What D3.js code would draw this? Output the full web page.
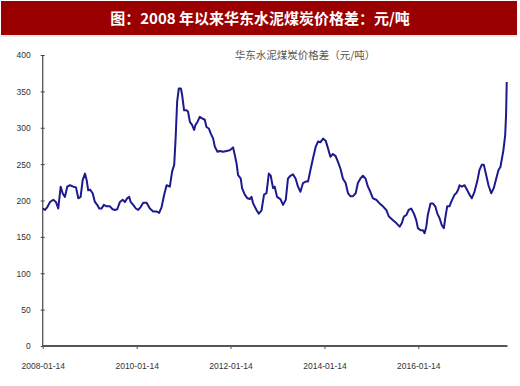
<!DOCTYPE html>
<html>
<head>
<meta charset="UTF-8">
<title>华东水泥煤炭价格差</title>
<script src="https://cdn.jsdelivr.net/npm/d3@7"></script>
<style>
  body { margin: 0; background: #fff; }
  text.tick-label { font-family: "Liberation Sans", Arial, sans-serif; font-size: 8.5px; fill: #333; }
</style>
</head>
<body>
<div id="chart"></div>
<script>
// weekly price gap (元/吨)
const dates = [
  "2008-01-14","2008-02-01","2008-02-19","2008-03-11","2008-04-05","2008-04-26","2008-05-14","2008-06-02",
  "2008-06-17","2008-07-05","2008-07-23","2008-08-13","2008-09-08","2008-09-29","2008-10-17","2008-11-04",
  "2008-11-20","2008-12-08","2008-12-21","2009-01-02","2009-01-16","2009-02-06","2009-02-23","2009-03-13",
  "2009-03-29","2009-04-16","2009-05-04","2009-05-25","2009-06-20","2009-07-11","2009-07-29","2009-08-16",
  "2009-09-06","2009-09-27","2009-10-15","2009-11-01","2009-11-17","2009-11-28","2009-12-18","2010-01-08",
  "2010-01-26","2010-02-14","2010-03-06","2010-04-01","2010-04-27","2010-05-22","2010-06-18","2010-07-08",
  "2010-07-27","2010-08-16","2010-09-04","2010-09-29","2010-10-17","2010-11-02","2010-11-13","2010-11-25",
  "2010-12-08","2010-12-24","2011-01-03","2011-01-18","2011-02-06","2011-02-18","2011-03-04","2011-03-21",
  "2011-04-06","2011-04-17","2011-05-02","2011-05-20","2011-06-07","2011-06-28","2011-07-11","2011-07-29",
  "2011-08-14","2011-09-01","2011-09-14","2011-10-05","2011-10-23","2011-11-17","2011-12-14","2012-01-08",
  "2012-02-03","2012-02-16","2012-03-01","2012-03-13","2012-04-03","2012-04-13","2012-05-04","2012-05-25",
  "2012-06-12","2012-06-25","2012-07-08","2012-08-03","2012-08-21","2012-09-11","2012-10-01","2012-10-20",
  "2012-11-07","2012-11-22","2012-12-10","2012-12-23","2013-01-10","2013-02-05","2013-02-26","2013-03-19",
  "2013-04-05","2013-04-24","2013-05-14","2013-06-04","2013-06-22","2013-07-11","2013-07-31","2013-08-21",
  "2013-09-08","2013-09-27","2013-10-17","2013-11-07","2013-11-25","2013-12-13","2014-01-03","2014-01-24",
  "2014-02-10","2014-03-01","2014-03-21","2014-04-11","2014-04-29","2014-05-18","2014-06-07","2014-06-28",
  "2014-07-16","2014-08-03","2014-08-24","2014-09-14","2014-10-01","2014-10-20","2014-11-09","2014-11-30",
  "2014-12-18","2015-01-06","2015-01-26","2015-02-21","2015-03-19","2015-04-14","2015-05-10","2015-05-30",
  "2015-07-01","2015-07-27","2015-08-22","2015-09-08","2015-09-24","2015-10-13","2015-10-31","2015-11-20",
  "2015-12-11","2015-12-29","2016-01-11","2016-02-01","2016-02-19","2016-03-03","2016-03-16","2016-03-28",
  "2016-04-18","2016-05-06","2016-05-25","2016-06-10","2016-06-27","2016-07-15","2016-07-31","2016-08-11",
  "2016-08-26","2016-09-13","2016-09-26","2016-10-09","2016-10-22","2016-11-04","2016-11-17","2016-11-30",
  "2016-12-18","2017-01-08","2017-01-29","2017-02-16","2017-03-05","2017-03-26","2017-04-16","2017-05-04",
  "2017-05-22","2017-06-07","2017-06-25","2017-07-13","2017-08-03","2017-08-23","2017-09-11","2017-09-29",
  "2017-10-14","2017-10-24","2017-11-06","2017-11-20","2017-11-27","2017-12-02"
];
const values = [
  189,187,191,198,201,198,189,219,
  210,205,219,221,219,218,203,205,
  228,237,228,214,215,210,198,194,
  189,189,194,192,192,188,187,188,
  198,201,198,203,205,198,194,189,
  187,191,197,197,189,185,185,183,
  191,208,221,219,240,249,285,336,
  354,354,345,324,324,322,308,304,
  297,304,308,315,313,311,301,299,
  292,285,274,267,268,267,268,269,
  273,263,251,235,230,217,208,203,
  202,205,196,187,182,186,208,210,
  237,234,217,219,205,202,194,201,
  230,234,236,230,219,212,224,226,
  226,242,258,274,281,280,285,282,
  272,260,264,261,253,244,230,224,
  210,206,206,210,224,230,234,230,
  219,212,203,201,196,192,187,178,
  173,169,164,169,178,180,187,189,
  182,173,162,159,159,155,164,180,
  196,196,192,182,176,166,162,176,
  192,192,198,203,208,210,214,221,
  219,221,214,208,203,212,226,242,
  249,249,235,221,210,217,230,242,
  246,256,269,290,318,363
];
const yTicks = [0, 50, 100, 150, 200, 250, 300, 350, 400];
const xTickLabels = ["2008-01-14", "2010-01-14", "2012-01-14", "2014-01-14", "2016-01-14"];
const titleText = "图：2008 年以来华东水泥煤炭价格差：元/吨";
const seriesName = "华东水泥煤炭价格差（元/吨）";

const W = 520, H = 386;
const parse = d3.timeParse("%Y-%m-%d");
const data = dates.map((d, i) => ({ date: parse(d), value: values[i] }));

const svg = d3.select("#chart").append("svg")
  .attr("width", W).attr("height", H);

// title bar
svg.append("rect").attr("x", 1).attr("y", 1).attr("width", 516).attr("height", 34).attr("fill", "#9a0000");
svg.append("line").attr("x1", 1).attr("x2", 517).attr("y1", 36).attr("y2", 36)
  .attr("stroke", "#e9c9c9").attr("stroke-width", 1);
svg.append("text")
  .attr("x", 260).attr("y", 24)
  .attr("text-anchor", "middle")
  .style("font-family", "'Noto Sans CJK SC', sans-serif")
  .style("font-weight", "bold")
  .style("font-size", "15px")
  .style("fill", "#fff")
  .text(titleText);

const x = d3.scaleTime()
  .domain([parse("2008-01-14"), parse("2017-12-08")])
  .range([42.7, 507.5]);
const y = d3.scaleLinear().domain([0, 400]).range([346, 55]);

// y axis
const yAxis = svg.append("g").attr("transform", "translate(42.7,0)")
  .call(d3.axisLeft(y).tickValues(yTicks).tickSize(3).tickPadding(9));
yAxis.select(".domain").attr("stroke", "#555").attr("stroke-width", 1.3).attr("d", "M0," + y(400) + "V" + y(0));
yAxis.selectAll(".tick line").attr("stroke", "#444").attr("x2", 2).attr("x1", -2);
yAxis.selectAll(".tick text").attr("class", "tick-label").attr("dy", "0.35em");

// x axis
const xAxis = svg.append("g").attr("transform", "translate(0," + y(0) + ")")
  .call(d3.axisBottom(x)
    .tickValues(xTickLabels.map(parse))
    .tickFormat(d3.timeFormat("%Y-%m-%d"))
    .tickSize(3).tickPadding(14));
xAxis.select(".domain").attr("stroke", "#555").attr("stroke-width", 2).attr("d", "M42.7,0H507.5");
xAxis.selectAll(".tick line").attr("stroke", "#555");
xAxis.selectAll(".tick text").attr("class", "tick-label");

// series
const line = d3.line().x(d => x(d.date)).y(d => y(d.value)).curve(d3.curveLinear);
svg.append("path").datum(data)
  .attr("d", line)
  .attr("fill", "none")
  .attr("stroke", "#1c1a8c")
  .attr("stroke-width", 2)
  .attr("stroke-linejoin", "round");

// legend label
svg.append("text")
  .attr("x", 305).attr("y", 59)
  .attr("text-anchor", "middle")
  .style("font-family", "'Noto Sans CJK SC', sans-serif")
  .style("font-size", "10.5px")
  .style("fill", "#555")
  .text(seriesName);
</script>
</body>
</html>
